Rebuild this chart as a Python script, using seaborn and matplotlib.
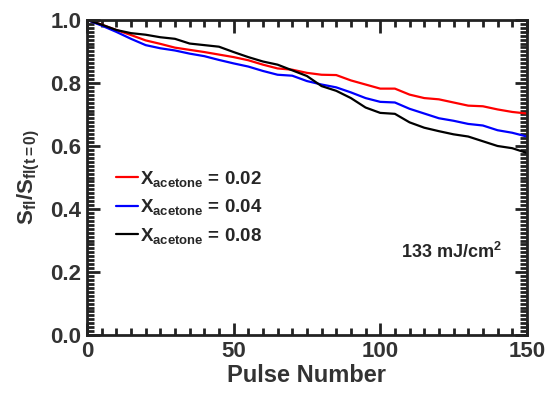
import numpy as np
import pandas as pd
import matplotlib
matplotlib.use("Agg")
import matplotlib.pyplot as plt
from matplotlib.ticker import MultipleLocator
import seaborn as sns

# Pulse numbers (every 5 pulses) and normalized fluorescence signal
pulses = list(range(0, 151, 5))

sig_002 = [1.000, 0.985, 0.968, 0.952, 0.935, 0.924, 0.912, 0.905, 0.898, 0.890,
           0.882, 0.872, 0.858, 0.846, 0.842, 0.832, 0.826, 0.825, 0.808, 0.795,
           0.782, 0.782, 0.763, 0.752, 0.748, 0.738, 0.728, 0.726, 0.716, 0.708,
           0.703]
sig_004 = [1.000, 0.982, 0.962, 0.940, 0.920, 0.910, 0.903, 0.893, 0.885, 0.873,
           0.862, 0.852, 0.838, 0.826, 0.823, 0.806, 0.795, 0.786, 0.770, 0.752,
           0.740, 0.738, 0.718, 0.703, 0.688, 0.680, 0.670, 0.665, 0.650, 0.642,
           0.630]
sig_008 = [1.000, 0.985, 0.968, 0.958, 0.953, 0.945, 0.940, 0.925, 0.920, 0.915,
           0.898, 0.882, 0.868, 0.858, 0.840, 0.822, 0.790, 0.775, 0.752, 0.722,
           0.705, 0.702, 0.675, 0.658, 0.647, 0.637, 0.630, 0.615, 0.600, 0.593,
           0.578]

labels = [r"$\mathrm{X_{acetone}}$ = 0.02",
          r"$\mathrm{X_{acetone}}$ = 0.04",
          r"$\mathrm{X_{acetone}}$ = 0.08"]
colors = ["#ff0000", "#0000ff", "#000000"]

df = pd.concat([
    pd.DataFrame({"pulse": pulses, "signal": s, "series": lab})
    for s, lab in zip([sig_002, sig_004, sig_008], labels)
])

sns.set_style("ticks")
plt.rcParams["font.family"] = ["Liberation Sans", "DejaVu Sans"]
plt.rcParams["font.weight"] = "bold"
plt.rcParams["mathtext.fontset"] = "custom"
plt.rcParams["mathtext.rm"] = "Liberation Sans:bold"
plt.rcParams["mathtext.it"] = "Liberation Sans:bold"
plt.rcParams["mathtext.bf"] = "Liberation Sans:bold"

fig = plt.figure(figsize=(5.54, 3.98), dpi=100)
ax = fig.add_axes([0.157, 0.158, 0.794, 0.792])

sns.lineplot(data=df, x="pulse", y="signal", hue="series", palette=colors,
             linewidth=1.6, ax=ax)

ax.set_xlim(0, 150)
ax.set_ylim(0, 1.0)
ax.xaxis.set_major_locator(MultipleLocator(50))
ax.xaxis.set_minor_locator(MultipleLocator(5))
ax.yaxis.set_major_locator(MultipleLocator(0.2))
ax.yaxis.set_minor_locator(MultipleLocator(0.0125))
ax.yaxis.set_major_formatter(matplotlib.ticker.FormatStrFormatter("%.1f"))

ax.tick_params(which="both", direction="in", top=True, right=True, width=2,
               colors="#222222")
ax.tick_params(which="major", length=9, labelsize=16, pad=4)
ax.tick_params(which="minor", length=5)
for lbl in ax.get_xticklabels() + ax.get_yticklabels():
    lbl.set_fontweight("bold")
    lbl.set_color("#333333")
for sp in ax.spines.values():
    sp.set_linewidth(2)
    sp.set_color("#222222")

ax.set_xlabel("Pulse Number", fontsize=17, fontweight="bold", color="#333333",
              labelpad=2)
ax.set_ylabel(r"$\mathrm{S_{fl}/S_{fl(t=0)}}$", fontsize=16, color="#333333")
ax.yaxis.set_label_coords(-0.102, 0.5)

ax.text(141.5, 0.265, r"133 mJ/cm$^\mathrm{2}$", fontsize=13, fontweight="bold",
        ha="right", va="center")

leg = ax.legend(loc="center left", bbox_to_anchor=(0.045, 0.405), frameon=False,
                fontsize=13.5, handlelength=1.15, handletextpad=0.1,
                labelspacing=0.45, borderpad=0)

fig.savefig("out.png", dpi=100)
